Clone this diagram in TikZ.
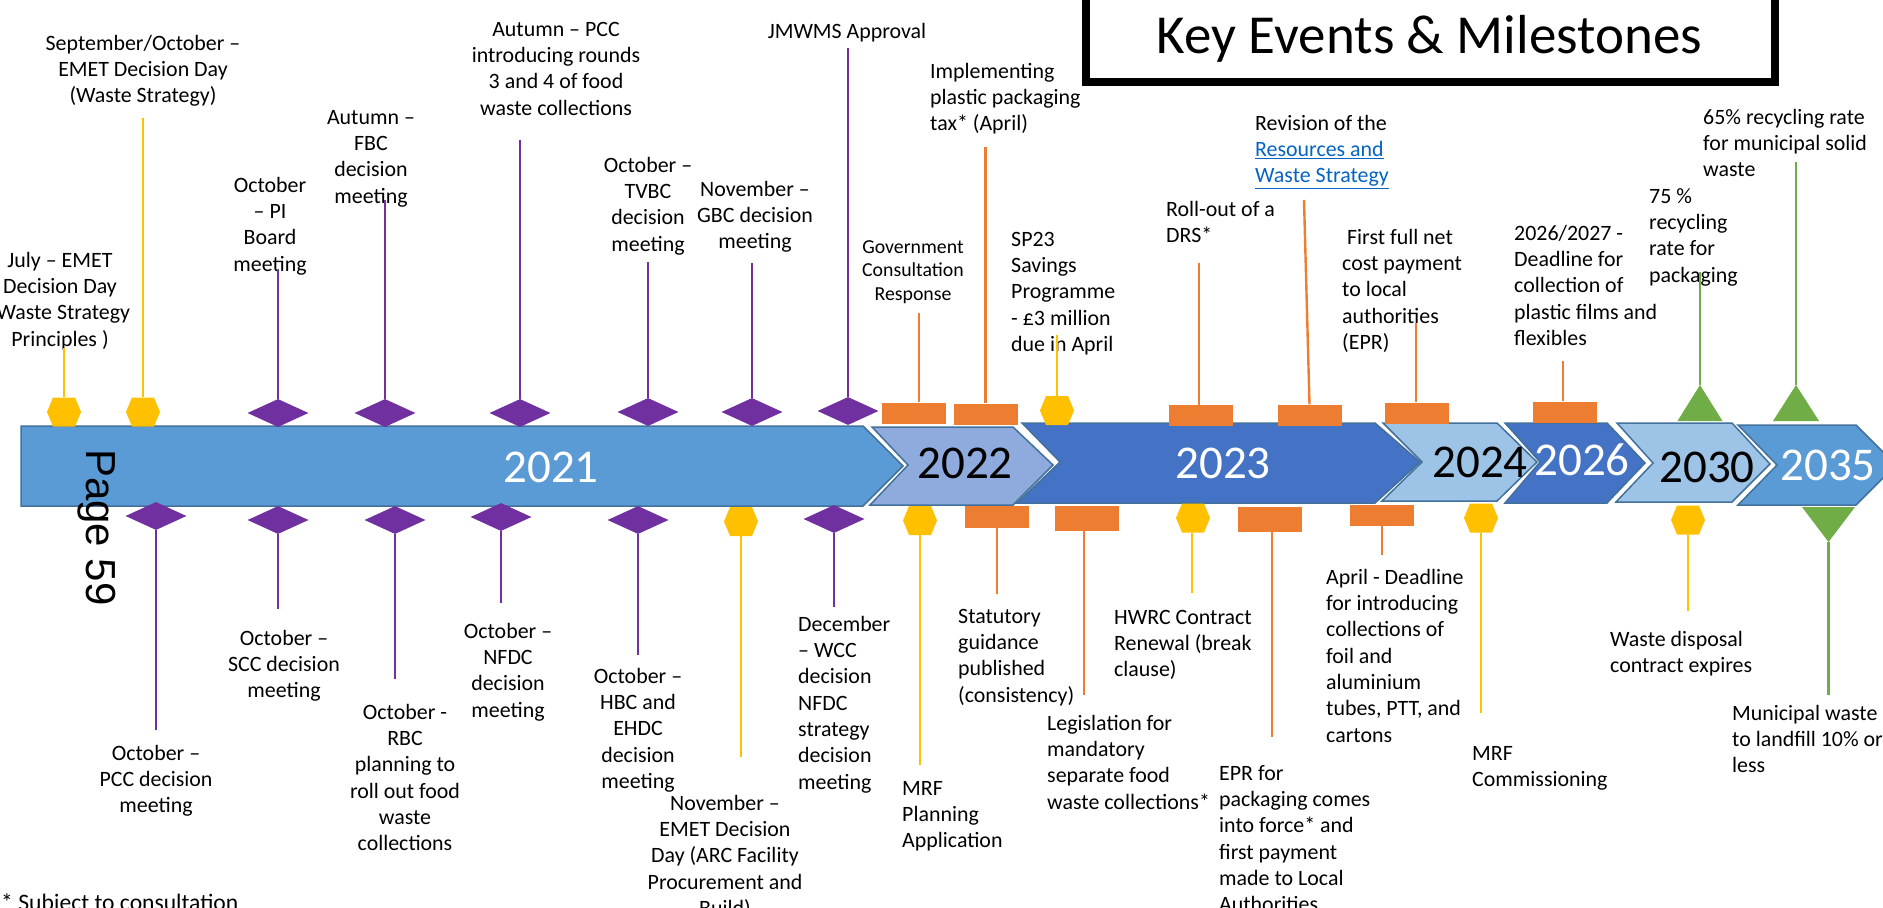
\documentclass[tikz,border=0pt]{standalone}
\usepackage{fontspec}
\setmainfont{Carlito}
\newfontfamily\arialf{Liberation Sans}
\usetikzlibrary{shapes.geometric}
\definecolor{purp}{HTML}{7030A0}
\definecolor{yel}{HTML}{FFC000}
\definecolor{orng}{HTML}{ED7D31}
\definecolor{grn}{HTML}{70AD47}
\definecolor{bA}{HTML}{5B9BD5}
\definecolor{bB}{HTML}{8FAADC}
\definecolor{bC}{HTML}{4472C4}
\definecolor{bD}{HTML}{9DC3E6}
\definecolor{bord}{HTML}{41719C}
\definecolor{linkc}{HTML}{0563C1}
\newcommand\fbody{\fontsize{21.9}{26.3}\selectfont}
\newcommand\fsmall{\fontsize{19.8}{23.6}\selectfont}
\newcommand\fyear{\fontsize{47}{56}\selectfont}
\newcommand\tstrut{\rule{0pt}{18pt}}
\begin{document}
\begin{tikzpicture}[x=1pt,y=-1pt,
  seg/.style={draw=bord, line width=1.5pt, line join=miter},
  dmd/.style={diamond, fill=purp, minimum width=61pt, minimum height=28pt, inner sep=0pt},
  hexm/.style={rectangle, minimum width=34pt, minimum height=29pt, inner sep=0pt,
    path picture={\fill[yel] (path picture bounding box.west) -- ([xshift=6pt]path picture bounding box.north west) -- ([xshift=-6pt]path picture bounding box.north east) -- (path picture bounding box.east) -- ([xshift=-6pt]path picture bounding box.south east) -- ([xshift=6pt]path picture bounding box.south west) -- cycle;}},
  orect/.style={rectangle, fill=orng, minimum width=64pt, minimum height=21pt, inner sep=0pt},
  triup/.style={rectangle, minimum width=45pt, minimum height=36pt, inner sep=0pt,
    path picture={\fill[grn] (path picture bounding box.south west) -- (path picture bounding box.north) -- (path picture bounding box.south east) -- cycle;}},
  tridn/.style={rectangle, minimum width=53pt, minimum height=35pt, inner sep=0pt,
    path picture={\fill[grn] (path picture bounding box.north west) -- (path picture bounding box.south) -- (path picture bounding box.north east) -- cycle;}},
  stem/.style={draw=#1, line width=2.4pt},
  tc/.style={font=\fbody, inner sep=0pt, align=center, anchor=north},
  tl/.style={font=\fbody, inner sep=0pt, align=left, anchor=north west},
  yr/.style={font=\fyear, inner sep=0pt, anchor=base}]
\useasboundingbox (0,0) rectangle (1883,908);

% title box
\draw[line width=8pt] (1085.5,-20) rectangle (1774.5,81.5);
\node[font=\fontsize{55}{66}\selectfont, anchor=base, inner sep=0pt] (title) at (1429.5,53) {Key Events \& Milestones};

% band
\draw[seg, fill=bA] (21,426) -- (863,426) -- (903,466) -- (863,506) -- (21,506) -- cycle;
\draw[seg, fill=bB] (872,427) -- (1013,427) -- (1053,465) -- (1013,505) -- (870,505) -- (908,465) -- cycle;
\draw[seg, fill=bC] (1022,423) -- (1375,423) -- (1420,462) -- (1375,503) -- (1017,503) -- (1060,462) -- cycle;
\draw[seg, fill=bD] (1383,423) -- (1497,423) -- (1537,462) -- (1497,501) -- (1382,501) -- (1422,462) -- cycle;
\draw[seg, fill=bC] (1505,423) -- (1607,423) -- (1645,463) -- (1607,503) -- (1505,503) -- (1540,462) -- cycle;
\draw[seg, fill=bD] (1617,423) -- (1732,423) -- (1770,464) -- (1732,502) -- (1616,502) -- (1653,463) -- cycle;
\draw[seg, fill=bA] (1738,425) -- (1856,425) -- (1896,465) -- (1856,505) -- (1738,505) -- (1777,465) -- cycle;

\node[yr, text=white] (y2021) at (551,482) {2021};
\node[yr, text=black] (y2022) at (965,478) {2022};
\node[yr, text=white] (y2023) at (1223,478) {2023};
\node[yr, text=black] (y2024) at (1480,477) {2024};
\node[yr, text=white] (y2026) at (1582,475) {2026};
\node[yr, text=black] (y2030) at (1707,482) {2030};
\node[yr, text=white] (y2035) at (1828,480) {2035};

\node[font=\arialf\fontsize{42}{50}\selectfont, rotate=-90, anchor=base west, inner sep=0pt] (pg) at (86.5,449) {Page 59};

% texts above
\node[tc] (t1) at (60,249) {\tstrut July – EMET\\Decision Day\\(Waste Strategy\\Principles )};
\node[tc] (t2) at (143,32) {\tstrut September/October –\\EMET Decision Day\\(Waste Strategy)};
\node[tc] (t3) at (270,174) {\tstrut October\\– PI\\Board\\meeting};
\node[tc] (t4) at (371,106) {\tstrut Autumn –\\FBC\\decision\\meeting};
\node[tc] (t5) at (556,18) {\tstrut Autumn – PCC\\introducing rounds\\3 and 4 of food\\waste collections};
\node[tc] (t6) at (648,154) {\tstrut October –\\TVBC\\decision\\meeting};
\node[tc] (t7) at (755,178) {\tstrut November –\\GBC decision\\meeting};
\node[tc] (t8) at (847,20) {\tstrut JMWMS Approval};
\node[tc, font=\fsmall] (t9) at (913,235) {\tstrut Government\\Consultation\\Response};
\node[tl] (t10) at (930,60) {\tstrut Implementing\\plastic packaging\\tax* (April)};
\node[tl] (t11) at (1011,228) {\tstrut SP23\\Savings\\Programme\\- £3 million\\due in April};
\node[tl] (t12) at (1166,198) {\tstrut Roll-out of a\\DRS*};
\node[tl] (t13) at (1255,112) {\tstrut Revision of the\\\textcolor{linkc}{\underline{Resources and}}\\\textcolor{linkc}{\underline{Waste Strategy}}};
\node[tl] (t14) at (1342,226) {\tstrut\ First full net\\cost payment\\to local\\authorities\\(EPR)};
\node[tl] (t15) at (1514,222) {\tstrut 2026/2027 -\\Deadline for\\collection of\\plastic films and\\flexibles};
\node[tl] (t16) at (1649,185) {\tstrut 75 \%\\recycling\\rate for\\packaging};
\node[tl] (t17) at (1703,106) {\tstrut 65\% recycling rate\\for municipal solid\\waste};

% texts below
\node[tc] (t18) at (156,742) {\tstrut October –\\PCC decision\\meeting};
\node[tc] (t19) at (284,627) {\tstrut October –\\SCC decision\\meeting};
\node[tc] (t20) at (405,701) {\tstrut October -\\RBC\\planning to\\roll out food\\waste\\collections};
\node[tc] (t21) at (508,620) {\tstrut October –\\NFDC\\decision\\meeting};
\node[tc] (t22) at (638,665) {\tstrut October –\\HBC and\\EHDC\\decision\\meeting};
\node[tc] (t23) at (725,792) {\tstrut November –\\EMET Decision\\Day (ARC Facility\\Procurement and\\Build)};
\node[tl] (t24) at (798,613) {\tstrut December\\– WCC\\decision\\NFDC\\strategy\\decision\\meeting};
\node[tl] (t25) at (902,777) {\tstrut MRF\\Planning\\Application};
\node[tl] (t26) at (958,605) {\tstrut Statutory\\guidance\\published\\(consistency)};
\node[tl] (t27) at (1047,712) {\tstrut Legislation for\\mandatory\\separate food\\waste collections*};
\node[tl] (t28) at (1114,606) {\tstrut HWRC Contract\\Renewal (break\\clause)};
\node[tl] (t29) at (1219,762) {\tstrut EPR for\\packaging comes\\into force* and\\first payment\\made to Local\\Authorities};
\node[tl] (t30) at (1326,566) {\tstrut April - Deadline\\for introducing\\collections of\\foil and\\aluminium\\tubes, PTT, and\\cartons};
\node[tl] (t31) at (1472,742) {\tstrut MRF\\Commissioning};
\node[tl] (t32) at (1610,628) {\tstrut Waste disposal\\contract expires};
\node[tl] (t33) at (1732,702) {\tstrut Municipal waste\\to landfill 10\% or\\less};

\node[font=\fontsize{23.6}{28}\selectfont, anchor=base west, inner sep=0pt] (fn) at (1,910) {* Subject to consultation};

% markers above
\node[hexm] (m1) at (64,412) {};
\node[hexm] (m2) at (143,412) {};
\node[dmd] (m3) at (278,413) {};
\node[dmd] (m4) at (385,413) {};
\node[dmd] (m5) at (520,413) {};
\node[dmd] (m6) at (648,412) {};
\node[dmd] (m7) at (752,412) {};
\node[dmd] (m8) at (848,411) {};
\node[orect] (m9) at (914,413) {};
\node[orect] (m10) at (985.5,414) {};
\node[hexm] (m11) at (1057,410.5) {};
\node[orect] (m12) at (1200.5,415.5) {};
\node[orect] (m13) at (1309.5,415) {};
\node[orect] (m14) at (1416.5,413) {};
\node[orect] (m15) at (1565,412) {};
\node[triup] (m16) at (1700,403) {};
\node[triup, minimum width=46pt] (m17) at (1796,403) {};

% markers below
\node[dmd] (m18) at (156,516) {};
\node[dmd] (m19) at (278,520) {};
\node[dmd] (m20) at (395,520) {};
\node[dmd] (m21) at (501,517) {};
\node[dmd] (m22) at (638,520) {};
\node[hexm] (m23) at (741,521.5) {};
\node[dmd] (m24) at (834,519) {};
\node[hexm] (m25) at (920,520.5) {};
\node[orect, minimum height=22pt] (m26) at (997,517) {};
\node[orect, minimum height=25pt] (m27) at (1087,518.5) {};
\node[hexm] (m28) at (1193,518) {};
\node[orect, minimum height=25pt] (m29) at (1270,519.5) {};
\node[orect] (m30) at (1382,515.5) {};
\node[hexm] (m31) at (1481,518) {};
\node[hexm] (m32) at (1688,520) {};
\node[tridn] (m33) at (1828.5,524.5) {};

% stem ends
\coordinate (e1) at (64,348);
\coordinate (e2) at (143,118);
\coordinate (e3) at (278,270);
\coordinate (e4) at (385,200);
\coordinate (e5) at (520,140);
\coordinate (e6) at (648,262);
\coordinate (e7) at (752,263);
\coordinate (e8) at (848,48);
\coordinate (e9) at (919,313);
\coordinate (e10) at (985.5,147);
\coordinate (e11) at (1057,335);
\coordinate (e12) at (1199,263);
\coordinate (e13) at (1304,200);
\coordinate (e14) at (1416,323);
\coordinate (e15) at (1563,361);
\coordinate (e16) at (1700,272);
\coordinate (e17) at (1796,162);
\coordinate (e18) at (156,730);
\coordinate (e19) at (278,609);
\coordinate (e20) at (395,679);
\coordinate (e21) at (501,603);
\coordinate (e22) at (638,655);
\coordinate (e23) at (741,757);
\coordinate (e24) at (834,607);
\coordinate (e25) at (920,765);
\coordinate (e26) at (997,594);
\coordinate (e27) at (1084,695);
\coordinate (e28) at (1192,593);
\coordinate (e29) at (1272,737);
\coordinate (e30) at (1382,555);
\coordinate (e31) at (1481,713);
\coordinate (e32) at (1688,611);
\coordinate (e33) at (1828.5,695);

% stems
\draw[stem=yel] (m1) -- (e1);
\draw[stem=yel] (m2) -- (e2);
\draw[stem=purp] (m3) -- (e3);
\draw[stem=purp] (m4) -- (e4);
\draw[stem=purp] (m5) -- (e5);
\draw[stem=purp] (m6) -- (e6);
\draw[stem=purp] (m7) -- (e7);
\draw[stem=purp] (m8) -- (e8);
\draw[stem=orng] (m9.north -| e9) -- (e9);
\draw[stem=orng] (m10) -- (e10);
\draw[stem=yel] (m11) -- (e11);
\draw[stem=orng] (m12.north -| e12) -- (e12);
\draw[stem=orng] (m13.north) -- (e13);
\draw[stem=orng] (m14.north -| e14) -- (e14);
\draw[stem=orng] (m15.north -| e15) -- (e15);
\draw[stem=grn] (m16) -- (e16);
\draw[stem=grn] (m17) -- (e17);
\draw[stem=purp] (m18) -- (e18);
\draw[stem=purp] (m19) -- (e19);
\draw[stem=purp] (m20) -- (e20);
\draw[stem=purp] (m21) -- (e21);
\draw[stem=purp] (m22) -- (e22);
\draw[stem=yel] (m23) -- (e23);
\draw[stem=purp] (m24) -- (e24);
\draw[stem=yel] (m25) -- (e25);
\draw[stem=orng] (m26) -- (e26);
\draw[stem=orng] (m27.south -| e27) -- (e27);
\draw[stem=yel] (m28.south -| e28) -- (e28);
\draw[stem=orng] (m29.south -| e29) -- (e29);
\draw[stem=orng] (m30) -- (e30);
\draw[stem=yel] (m31) -- (e31);
\draw[stem=yel] (m32) -- (e32);
\draw[stem=grn] (m33) -- (e33);
\end{tikzpicture}
\end{document}
